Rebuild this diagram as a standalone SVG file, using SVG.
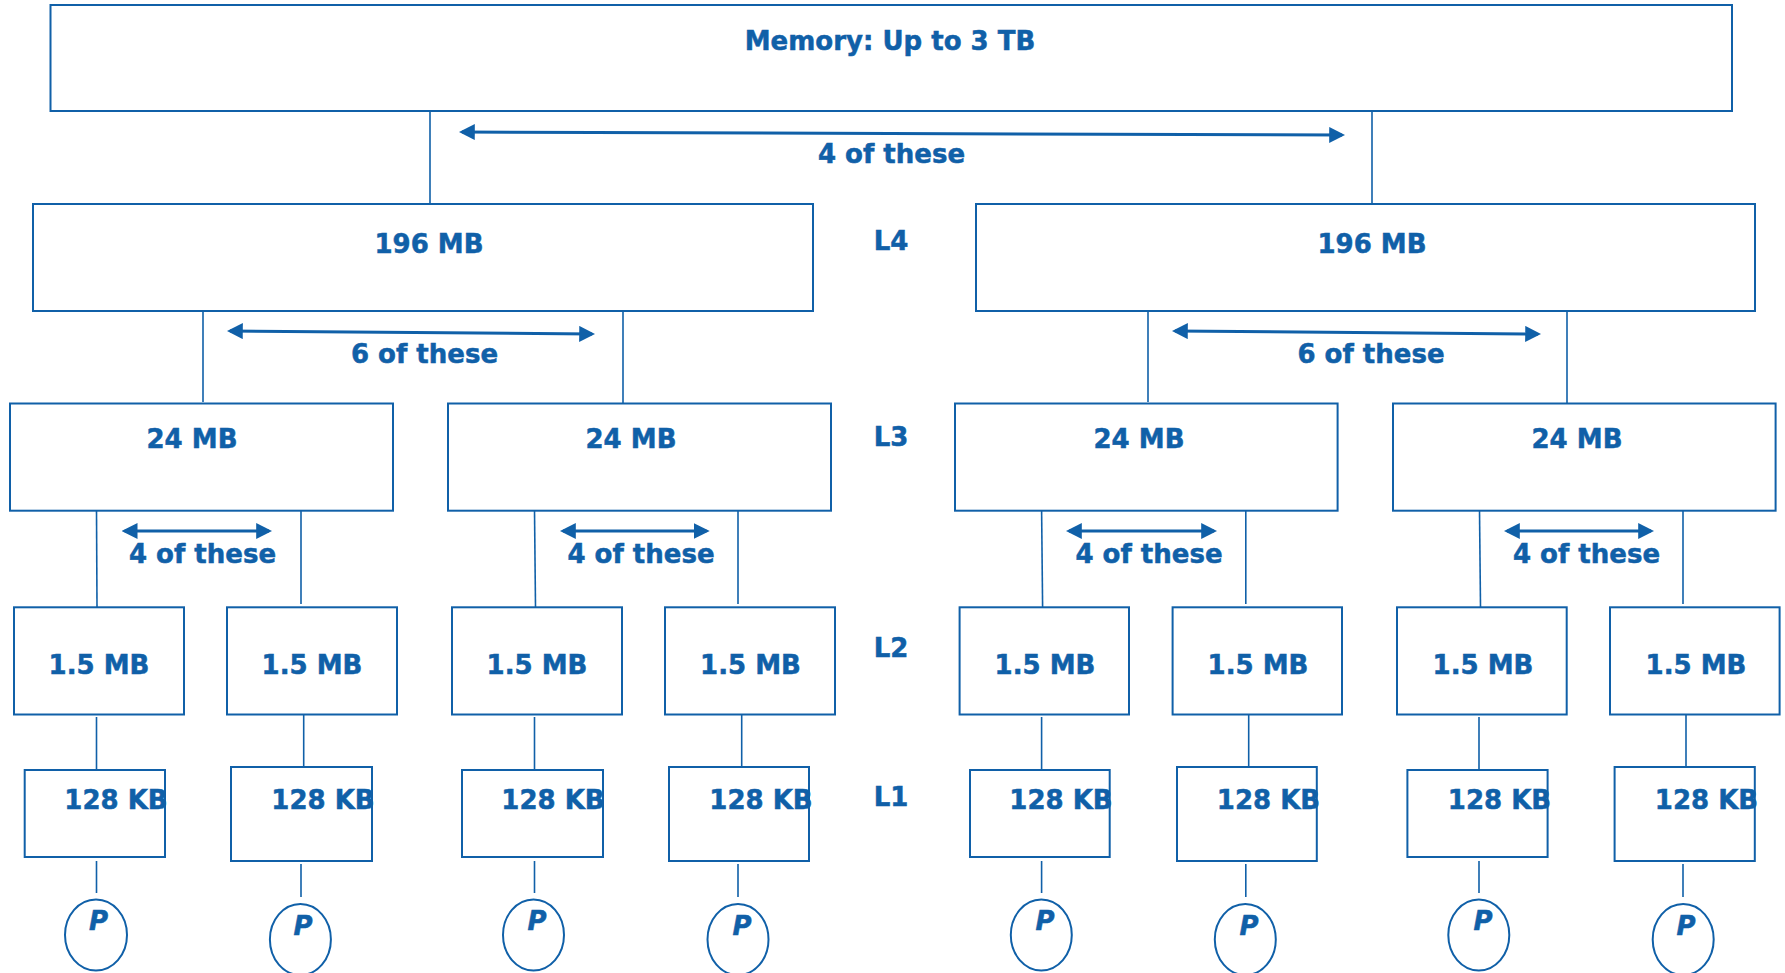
<svg xmlns="http://www.w3.org/2000/svg" width="1785" height="973" viewBox="0 0 1785 973">
<defs>
<style>
.box{fill:#fff;stroke:#1060A8;stroke-width:2}
.ln{stroke:#1060A8;stroke-width:1.6;fill:none}
.arr{stroke:#1060A8;stroke-width:3;fill:none;marker-start:url(#ah);marker-end:url(#ah)}
.t{font-family:"DejaVu Sans","Verdana",sans-serif;font-weight:bold;font-size:26px;fill:#1060A8;stroke:#1060A8;stroke-width:0.5;text-anchor:middle}
.p{font-family:"DejaVu Sans","Verdana",sans-serif;font-weight:bold;font-style:italic;font-size:26px;fill:#1060A8;stroke:#1060A8;stroke-width:0.5;text-anchor:middle}
.proc{fill:#fff;stroke:#1060A8;stroke-width:2}
</style>
<marker id="ah" markerUnits="userSpaceOnUse" markerWidth="16" markerHeight="16" refX="12" refY="7.5" orient="auto-start-reverse" viewBox="0 0 15 15">
<path d="M0,0 L15,7.5 L0,15 z" fill="#1060A8"/>
</marker>
</defs>
<rect width="1785" height="973" fill="#fff"/>

<g id="connectors">
<line class="ln" x1="430" y1="108" x2="430" y2="203"/>
<line class="ln" x1="1372" y1="108" x2="1372" y2="203"/>
<line class="arr" x1="462" y1="132" x2="1342" y2="135"/>

<line class="ln" x1="203" y1="308" x2="203" y2="402"/>
<line class="ln" x1="623" y1="311" x2="623" y2="403"/>
<line class="arr" x1="230" y1="331" x2="592" y2="334"/>
<line class="ln" x1="1148" y1="308" x2="1148" y2="402"/>
<line class="ln" x1="1567" y1="311" x2="1567" y2="403"/>
<line class="arr" x1="1175" y1="331" x2="1538" y2="334"/>

<line class="ln" x1="96.5" y1="510" x2="97" y2="607"/>
<line class="ln" x1="301" y1="508" x2="301" y2="604"/>
<line class="arr" x1="124.7" y1="531" x2="269" y2="531"/>
<line class="ln" x1="534.5" y1="510" x2="535.5" y2="607"/>
<line class="ln" x1="738" y1="508" x2="738" y2="604"/>
<line class="arr" x1="563" y1="531" x2="706.5" y2="531"/>
<line class="ln" x1="1041.6" y1="510" x2="1042.6" y2="607"/>
<line class="ln" x1="1245.8" y1="508" x2="1245.8" y2="604"/>
<line class="arr" x1="1069" y1="531" x2="1214" y2="531"/>
<line class="ln" x1="1479.5" y1="510" x2="1480.5" y2="607"/>
<line class="ln" x1="1683" y1="508" x2="1683" y2="604"/>
<line class="arr" x1="1507" y1="531" x2="1651" y2="531"/>

<line class="ln" x1="96.5" y1="717" x2="96.5" y2="770"/>
<line class="ln" x1="303.7" y1="714.5" x2="303.7" y2="767"/>
<line class="ln" x1="534.5" y1="717" x2="534.5" y2="770"/>
<line class="ln" x1="741.7" y1="714.5" x2="741.7" y2="767"/>
<line class="ln" x1="1041.6" y1="717" x2="1041.6" y2="770"/>
<line class="ln" x1="1248.7" y1="714.5" x2="1248.7" y2="767"/>
<line class="ln" x1="1479" y1="717" x2="1479" y2="770"/>
<line class="ln" x1="1686" y1="714.5" x2="1686" y2="767"/>

<line class="ln" x1="96.5" y1="861" x2="96.5" y2="893"/>
<line class="ln" x1="301" y1="864" x2="301" y2="897"/>
<line class="ln" x1="534.5" y1="861" x2="534.5" y2="893"/>
<line class="ln" x1="738" y1="864" x2="738" y2="897"/>
<line class="ln" x1="1041.6" y1="861" x2="1041.6" y2="893"/>
<line class="ln" x1="1245.8" y1="864" x2="1245.8" y2="897"/>
<line class="ln" x1="1479" y1="861" x2="1479" y2="893"/>
<line class="ln" x1="1683" y1="864" x2="1683" y2="897"/>
</g>

<g id="memory"><rect class="box" x="50.5" y="5" width="1681.5" height="106"/><text class="t" x="890" y="50">Memory: Up to 3 TB</text></g>
<g id="count-top"><text class="t" x="891.5" y="163">4 of these</text></g>
<g id="label-L4"><text class="t" x="891" y="250">L4</text></g>
<g id="label-L3"><text class="t" x="891" y="446">L3</text></g>
<g id="label-L2"><text class="t" x="891" y="656.5">L2</text></g>
<g id="label-L1"><text class="t" x="891" y="806">L1</text></g>

<g id="l4-left"><rect class="box" x="33" y="204" width="780" height="107"/><text class="t" x="429" y="253">196 MB</text></g>
<g id="l4-right"><rect class="box" x="976" y="204" width="779" height="107"/><text class="t" x="1372" y="253">196 MB</text></g>
<g id="count-l4-left"><text class="t" x="424.5" y="363">6 of these</text></g>
<g id="count-l4-right"><text class="t" x="1371" y="363">6 of these</text></g>

<g id="l3-1"><rect class="box" x="10" y="403.5" width="383" height="107.2"/><text class="t" x="192" y="447.5">24 MB</text></g>
<g id="l3-2"><rect class="box" x="448" y="403.5" width="383" height="107.2"/><text class="t" x="631" y="447.5">24 MB</text></g>
<g id="l3-3"><rect class="box" x="955" y="403.5" width="382.6" height="107.2"/><text class="t" x="1139" y="447.5">24 MB</text></g>
<g id="l3-4"><rect class="box" x="1393" y="403.5" width="382.6" height="107.2"/><text class="t" x="1577" y="447.5">24 MB</text></g>
<g id="count-l3-1"><text class="t" x="202.5" y="563">4 of these</text></g>
<g id="count-l3-2"><text class="t" x="641" y="563">4 of these</text></g>
<g id="count-l3-3"><text class="t" x="1149" y="563">4 of these</text></g>
<g id="count-l3-4"><text class="t" x="1586.5" y="563">4 of these</text></g>

<g id="l2-a"><rect class="box" x="14" y="607.3" width="170" height="107.2"/><text class="t" x="99" y="673.5">1.5 MB</text></g>
<g id="l2-b"><rect class="box" x="227" y="607.3" width="170" height="107.2"/><text class="t" x="312" y="673.5">1.5 MB</text></g>
<g id="l2-c"><rect class="box" x="452" y="607.3" width="170" height="107.2"/><text class="t" x="537" y="673.5">1.5 MB</text></g>
<g id="l2-d"><rect class="box" x="665" y="607.3" width="170" height="107.2"/><text class="t" x="750.5" y="673.5">1.5 MB</text></g>
<g id="l2-e"><rect class="box" x="959.6" y="607.3" width="169.4" height="107.2"/><text class="t" x="1045" y="673.5">1.5 MB</text></g>
<g id="l2-f"><rect class="box" x="1172.6" y="607.3" width="169.4" height="107.2"/><text class="t" x="1258" y="673.5">1.5 MB</text></g>
<g id="l2-g"><rect class="box" x="1397" y="607.3" width="169.7" height="107.2"/><text class="t" x="1483" y="673.5">1.5 MB</text></g>
<g id="l2-h"><rect class="box" x="1610" y="607.3" width="169.6" height="107.2"/><text class="t" x="1696" y="673.5">1.5 MB</text></g>

<g id="l1-a"><rect class="box" x="24.7" y="770" width="140.3" height="87"/><text class="t" x="116" y="808.5">128 KB</text></g>
<g id="l1-b"><rect class="box" x="231" y="767" width="141" height="94"/><text class="t" x="323" y="808.5">128 KB</text></g>
<g id="l1-c"><rect class="box" x="462" y="770" width="141" height="87"/><text class="t" x="553" y="808.5">128 KB</text></g>
<g id="l1-d"><rect class="box" x="669" y="767" width="140" height="94"/><text class="t" x="761" y="808.5">128 KB</text></g>
<g id="l1-e"><rect class="box" x="970" y="770" width="139.7" height="87"/><text class="t" x="1061" y="808.5">128 KB</text></g>
<g id="l1-f"><rect class="box" x="1177" y="767" width="139.8" height="94"/><text class="t" x="1268.5" y="808.5">128 KB</text></g>
<g id="l1-g"><rect class="box" x="1407.4" y="770" width="140.2" height="87"/><text class="t" x="1499.5" y="808.5">128 KB</text></g>
<g id="l1-h"><rect class="box" x="1614.6" y="767" width="140.2" height="94"/><text class="t" x="1706.5" y="808.5">128 KB</text></g>

<g id="p-a"><ellipse class="proc" cx="96" cy="935" rx="31" ry="35.5"/><text class="p" x="98.5" y="930">P</text></g>
<g id="p-b"><ellipse class="proc" cx="300.4" cy="939.5" rx="30.5" ry="35.5"/><text class="p" x="303" y="935">P</text></g>
<g id="p-c"><ellipse class="proc" cx="533.5" cy="935" rx="30.5" ry="35.5"/><text class="p" x="537" y="930">P</text></g>
<g id="p-d"><ellipse class="proc" cx="738" cy="939.5" rx="30.5" ry="35.5"/><text class="p" x="742" y="935">P</text></g>
<g id="p-e"><ellipse class="proc" cx="1041.3" cy="935" rx="30.5" ry="35.5"/><text class="p" x="1045" y="930">P</text></g>
<g id="p-f"><ellipse class="proc" cx="1245.3" cy="939.5" rx="30.5" ry="35.5"/><text class="p" x="1249" y="935">P</text></g>
<g id="p-g"><ellipse class="proc" cx="1478.8" cy="935" rx="30.5" ry="35.5"/><text class="p" x="1483" y="930">P</text></g>
<g id="p-h"><ellipse class="proc" cx="1683.2" cy="939.5" rx="30.5" ry="35.5"/><text class="p" x="1686" y="935">P</text></g>
</svg>
